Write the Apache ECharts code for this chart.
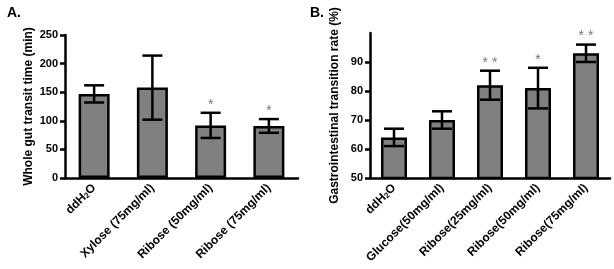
<!DOCTYPE html>
<html>
<head>
<meta charset="utf-8">
<script src="https://cdn.jsdelivr.net/npm/echarts@6/dist/echarts.min.js"></script>
<style>
  html, body { margin: 0; padding: 0; background: #fff; }
  #chart { width: 614px; height: 269px; }
</style>
</head>
<body>
<div id="chart"></div>
<script>
// panel A
const catsA = ['ddH{s|2}O', 'Xylose (75mg/ml)', 'Ribose (50mg/ml)', 'Ribose (75mg/ml)'];
const meanA = [147, 158, 92, 91];
const errA = [15, 56, 22, 12];
const sigA = ['', '', '*', '*'];
const ticksA = [0, 50, 100, 150, 200, 250];

// panel B
const catsB = ['ddH{s|2}O', 'Glucose(50mg/ml)', 'Ribose(25mg/ml)', 'Ribose(50mg/ml)', 'Ribose(75mg/ml)'];
const meanB = [64, 70, 82, 81, 93];
const errB = [3, 3, 5, 7, 3];
const sigB = ['', '', '* *', '*', '* *'];
const ticksB = [50, 60, 70, 80, 90];

const font = 'Liberation Sans, Arial, sans-serif';
const chart = echarts.init(document.getElementById('chart'));

function errSeries(idx, mean, err, sig) {
  return {
    type: 'custom',
    xAxisIndex: idx,
    yAxisIndex: idx,
    z: 5,
    data: mean.map((m, i) => [i, m, err[i]]),
    renderItem: function (params, api) {
      const x = api.value(0), m = api.value(1), e = api.value(2);
      const hi = api.coord([x, m + e]);
      const lo = api.coord([x, m - e]);
      const cw = 10;
      const st = { stroke: '#000', lineWidth: 2.5 };
      const kids = [
        { type: 'line', shape: { x1: hi[0], y1: hi[1], x2: lo[0], y2: lo[1] }, style: st },
        { type: 'line', shape: { x1: hi[0] - cw, y1: hi[1], x2: hi[0] + cw, y2: hi[1] }, style: st },
        { type: 'line', shape: { x1: lo[0] - cw, y1: lo[1], x2: lo[0] + cw, y2: lo[1] }, style: st }
      ];
      const s = sig[params.dataIndex];
      if (s) {
        kids.push({
          type: 'text',
          style: {
            text: s, x: hi[0], y: hi[1] - 8,
            align: 'center', verticalAlign: 'middle',
            fill: '#777', font: '14px ' + font
          }
        });
      }
      return { type: 'group', children: kids };
    }
  };
}

function xAx(idx, cats) {
  return {
    type: 'category',
    gridIndex: idx,
    data: cats,
    axisLine: { lineStyle: { color: '#000', width: 2.5 } },
    axisTick: { alignWithLabel: true, length: 5, lineStyle: { color: '#000', width: 2.5 } },
    axisLabel: {
      interval: 0, rotate: 45, margin: 8, color: '#000',
      fontFamily: font, fontWeight: 'bold', fontSize: 12,
      rich: { s: { fontSize: 8, fontWeight: 'bold', fontFamily: font, verticalAlign: 'bottom', padding: [4, 0, 0, 0] } }
    }
  };
}

function yAx(idx, name, min, max, ticks, gap) {
  return {
    type: 'value',
    gridIndex: idx,
    min: min, max: max, interval: 10,
    name: name, nameLocation: 'middle', nameGap: gap,
    nameTextStyle: { color: '#000', fontFamily: font, fontWeight: 'bold', fontSize: 12 },
    splitLine: { show: false },
    axisLine: { show: true, lineStyle: { color: '#000', width: 2.5 } },
    axisTick: { show: true, length: 5, customValues: ticks, lineStyle: { color: '#000', width: 2.5 } },
    axisLabel: { margin: 7, customValues: ticks, color: '#000', fontFamily: font, fontWeight: 'bold', fontSize: 11 }
  };
}

const barStyle = { color: '#808080', borderColor: '#000', borderWidth: 2.5 };

chart.setOption({
  animation: false,
  title: [
    { text: 'A.', left: 2, top: 1, textStyle: { fontFamily: font, fontWeight: 'bold', fontSize: 14, color: '#000' } },
    { text: 'B.', left: 305, top: 1, textStyle: { fontFamily: font, fontWeight: 'bold', fontSize: 14, color: '#000' } }
  ],
  grid: [
    { left: 65, top: 35, width: 233, height: 143 },
    { left: 370, top: 33, width: 240, height: 145 }
  ],
  xAxis: [xAx(0, catsA), xAx(1, catsB)],
  yAxis: [
    yAx(0, 'Whole gut transit time (min)', 0, 250, ticksA, 30),
    yAx(1, 'Gastrointestinal transition rate (%)', 50, 100, ticksB, 29)
  ],
  series: [
    { type: 'bar', xAxisIndex: 0, yAxisIndex: 0, data: meanA, barWidth: 31, itemStyle: barStyle },
    errSeries(0, meanA, errA, sigA),
    { type: 'bar', xAxisIndex: 1, yAxisIndex: 1, data: meanB, barWidth: 26, itemStyle: barStyle },
    errSeries(1, meanB, errB, sigB)
  ]
});
</script>
</body>
</html>
